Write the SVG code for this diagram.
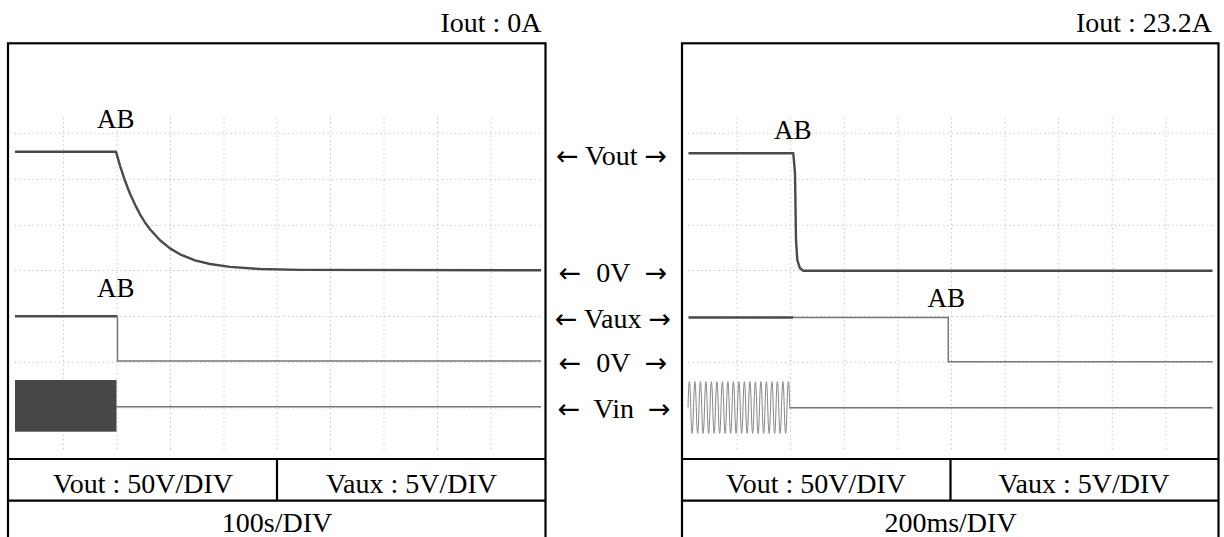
<svg xmlns="http://www.w3.org/2000/svg" width="1224" height="537" viewBox="0 0 1224 537">
<style>
text{font-family:"Liberation Serif","Times New Roman",serif;font-size:28px;fill:#000}
.c{text-anchor:middle}
.e{text-anchor:end}
.ab{font-size:27px}
.ar{font-family:"DejaVu Sans",sans-serif;font-size:27px}
.frame{fill:none;stroke:#000;stroke-width:2.2}
.tl{stroke:#000;stroke-width:2.2;fill:none}
.grid{stroke:#bdbdbd;stroke-width:1;stroke-dasharray:1.2 3.2;fill:none}
.tr{fill:none;stroke:#4a4a4a;stroke-width:2.4;stroke-linejoin:round}
.tr2{fill:none;stroke:#777;stroke-width:1.5}
.sin{fill:none;stroke:#888;stroke-width:1}
</style>
<rect width="1224" height="537" fill="#fff"/>

<g id="left-panel">
  <text class="e" x="541.5" y="31.5">Iout : 0A</text>
  <rect class="frame" x="8" y="43.3" width="537.5" height="520"/>
  <path class="grid" d="M63.5 118V450M117 118V450M170.5 118V450M224 118V450M277 118V450M330.5 118V450M384 118V450M437.5 118V450M491 118V450
  M15 133.3H541M15 179.3H541M15 225.3H541M15 270.5H541M15 316.5H541M15 362.3H541M15 408H541"/>
  <g id="left-vout">
    <path class="tr" d="M15 151.7H116L120 165.6L125 180.8L130 193.7L135 204.6L140 214.3L145 222.5L150 229.3L160 240.3L170 248.4L180 254.3L195 260.3L210 264L230 266.9L260 269L300 269.9L541 270.3"/>
  </g>
  <g id="left-vaux">
    <path class="tr" d="M15 316.3H117.5"/>
    <path class="tr2" d="M117.5 316.3V361H541"/>
  </g>
  <g id="left-vin">
    <rect x="15" y="380" width="101.5" height="51.7" fill="#474747"/>
    <path class="tr2" d="M116 406.7H541"/>
  </g>
  <text class="ab" x="97" y="128.3">AB</text>
  <text class="ab" x="97" y="296.7">AB</text>
  <path class="tl" d="M8 459H545.5M8 500.7H545.5M277 459V500.7"/>
  <text class="c" x="143" y="492.7">Vout : 50V/DIV</text>
  <text class="c" x="411.5" y="492.7">Vaux : 5V/DIV</text>
  <text class="c" x="277" y="532">100s/DIV</text>
</g>

<g id="middle-labels">
  <text class="c" x="611.5" y="165"><tspan class="ar">←</tspan> Vout <tspan class="ar">→</tspan></text>
  <text class="c" x="613" y="281.7" word-spacing="8"><tspan class="ar">←</tspan> 0V <tspan class="ar">→</tspan></text>
  <text class="c" x="613" y="328.3"><tspan class="ar">←</tspan> Vaux <tspan class="ar">→</tspan></text>
  <text class="c" x="613" y="371.7" word-spacing="8"><tspan class="ar">←</tspan> 0V <tspan class="ar">→</tspan></text>
  <text class="c" x="614" y="418.3" word-spacing="7"><tspan class="ar">←</tspan> Vin <tspan class="ar">→</tspan></text>
</g>

<g id="right-panel">
  <text class="e" x="1212" y="31.5">Iout : 23.2A</text>
  <rect class="frame" x="682" y="43.3" width="536.5" height="520"/>
  <path class="grid" d="M737.1 118V450M790.7 118V450M844.3 118V450M897.9 118V450M951.5 118V450M1005.1 118V450M1058.7 118V450M1112.3 118V450M1165.9 118V450
  M688 133.3H1213M688 179.3H1213M688 225.3H1213M688 270.5H1213M688 316.5H1213M688 362.3H1213M688 408H1213"/>
  <g id="right-vout">
    <path class="tr" d="M688.5 153.3H793.3L795 173.3L796 240L797.3 260L800 268.3L803.3 270.7H1212.5"/>
  </g>
  <g id="right-vaux">
    <path class="tr" d="M688.5 317.5H793" stroke-width="3"/>
    <path class="tr2" d="M793 317.5H948.3V361.7H1212.5"/>
  </g>
  <g id="right-vin">
    <path class="sin" d="M688 407.5q1.375 -51.6 2.75 0t2.75 0t2.75 0t2.75 0t2.75 0t2.75 0t2.75 0t2.75 0t2.75 0t2.75 0t2.75 0t2.75 0t2.75 0t2.75 0t2.75 0t2.75 0t2.75 0t2.75 0t2.75 0t2.75 0t2.75 0t2.75 0t2.75 0t2.75 0t2.75 0t2.75 0t2.75 0t2.75 0t2.75 0t2.75 0t2.75 0t2.75 0t2.75 0t2.75 0t2.75 0t2.75 0t2.75 0"/>
    <path class="tr2" d="M789.5 407.7H1212.5"/>
  </g>
  <text class="ab" x="774" y="139.3">AB</text>
  <text class="ab" x="927.5" y="306.7">AB</text>
  <path class="tl" d="M682 459H1218.5M682 500.7H1218.5M950.5 459V500.7"/>
  <text class="c" x="816" y="492.7">Vout : 50V/DIV</text>
  <text class="c" x="1084" y="492.7">Vaux : 5V/DIV</text>
  <text class="c" x="950.5" y="532">200ms/DIV</text>
</g>
</svg>
